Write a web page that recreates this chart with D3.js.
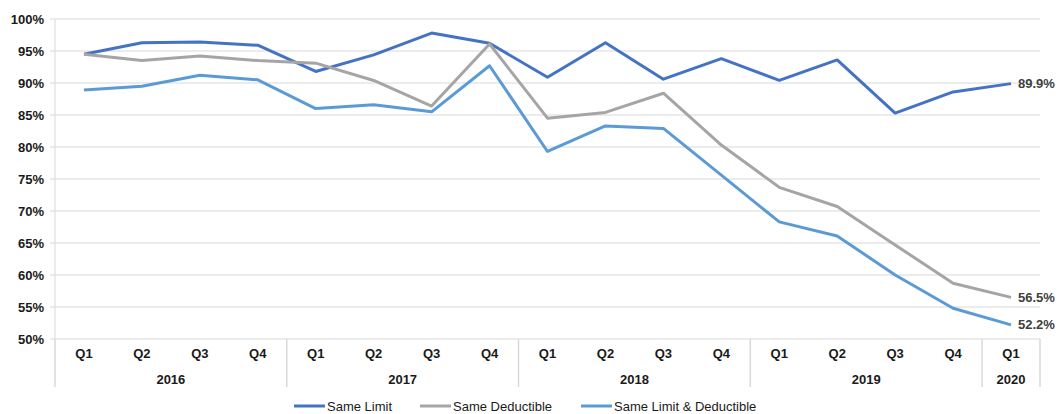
<!DOCTYPE html>
<html>
<head>
<meta charset="utf-8">
<script src="https://cdn.jsdelivr.net/npm/d3@7"></script>
<style>
  body { margin: 0; background: #fff; }
  text { font-family: "Liberation Sans", Arial, sans-serif; }
</style>
</head>
<body>
<svg id="chart" width="1057" height="414"></svg>
<script>
// categories
const quarters = ["Q1","Q2","Q3","Q4","Q1","Q2","Q3","Q4","Q1","Q2","Q3","Q4","Q1","Q2","Q3","Q4","Q1"];
const years = ["2016", "2017", "2018", "2019", "2020"];
const quartersPerYear = [4, 4, 4, 4, 1];
const yTicks = [0.50, 0.55, 0.60, 0.65, 0.70, 0.75, 0.80, 0.85, 0.90, 0.95, 1.00];

// series values
const sameLimit = [0.945, 0.963, 0.964, 0.959, 0.918, 0.944, 0.978, 0.962, 0.909, 0.963, 0.906, 0.938, 0.904, 0.936, 0.853, 0.886, 0.899];
const sameDeductible = [0.945, 0.935, 0.942, 0.935, 0.931, 0.904, 0.864, 0.961, 0.845, 0.854, 0.884, 0.803, 0.737, 0.707, 0.647, 0.587, 0.565];
const sameLimitDeductible = [0.889, 0.895, 0.912, 0.905, 0.860, 0.866, 0.855, 0.927, 0.793, 0.833, 0.829, 0.756, 0.683, 0.661, 0.600, 0.548, 0.522];

const seriesNames = ["Same Limit", "Same Deductible", "Same Limit & Deductible"];
const seriesColors = ["#4472C4", "#A5A5A5", "#5B9BD5"];
const seriesData = [sameLimit, sameDeductible, sameLimitDeductible];

const svg = d3.select("#chart");
const plotLeft = 55, plotRight = 1040, plotTop = 19, plotBottom = 339;
const gridColor = "#d9d9d9";
const textColor = "#1a1a1a";

const x = d3.scaleBand()
    .domain(d3.range(quarters.length))
    .range([plotLeft, plotRight]);

const y = d3.scaleLinear()
    .domain([0.5, 1.0])
    .range([plotBottom, plotTop]);

// gridlines + y labels
svg.append("g")
    .selectAll("line")
    .data(yTicks)
    .enter().append("line")
    .attr("x1", plotLeft - 5)
    .attr("x2", plotRight)
    .attr("y1", d => y(d))
    .attr("y2", d => y(d))
    .style("stroke", gridColor)
    .style("stroke-width", 1);

svg.append("g")
    .selectAll("text")
    .data(yTicks)
    .enter().append("text")
    .attr("x", plotLeft - 11)
    .attr("y", d => y(d))
    .attr("dy", "0.35em")
    .attr("text-anchor", "end")
    .attr("font-size", "13px")
    .attr("font-weight", "bold")
    .attr("fill", textColor)
    .text(d => d3.format(".0%")(d));

// y axis line
svg.append("line")
    .attr("x1", plotLeft).attr("x2", plotLeft)
    .attr("y1", plotTop).attr("y2", plotBottom)
    .style("stroke", gridColor);

// year separators below the axis
let boundaries = [0];
quartersPerYear.forEach(n => boundaries.push(boundaries[boundaries.length - 1] + n));
const bx = d => d < quarters.length ? x(d) : plotRight;

svg.append("g")
    .selectAll("line")
    .data(boundaries)
    .enter().append("line")
    .attr("x1", bx)
    .attr("x2", bx)
    .attr("y1", plotBottom)
    .attr("y2", plotBottom + 48)
    .style("stroke", gridColor)
    .style("stroke-width", 1.5);

// quarter labels
svg.append("g")
    .selectAll("text")
    .data(quarters)
    .enter().append("text")
    .attr("x", (_, i) => x(i) + x.bandwidth() / 2)
    .attr("y", plotBottom + 14)
    .attr("dy", "0.35em")
    .attr("text-anchor", "middle")
    .attr("font-size", "13px")
    .attr("font-weight", "bold")
    .attr("fill", textColor)
    .text(d => d);

// year labels
svg.append("g")
    .selectAll("text")
    .data(years)
    .enter().append("text")
    .attr("x", (_, i) => (bx(boundaries[i]) + bx(boundaries[i + 1])) / 2)
    .attr("y", plotBottom + 40)
    .attr("dy", "0.35em")
    .attr("text-anchor", "middle")
    .attr("font-size", "13px")
    .attr("font-weight", "bold")
    .attr("fill", textColor)
    .text(d => d);

// lines
const line = d3.line()
    .x((_, i) => x(i) + x.bandwidth() / 2)
    .y(d => y(d));

svg.append("g")
    .selectAll("path")
    .data(seriesData)
    .enter().append("path")
    .attr("d", line)
    .attr("fill", "none")
    .attr("stroke", (_, i) => seriesColors[i])
    .attr("stroke-width", 3)
    .attr("stroke-linejoin", "round");

// end labels
const last = quarters.length - 1;
svg.append("g")
    .selectAll("text")
    .data(seriesData)
    .enter().append("text")
    .attr("x", x(last) + x.bandwidth() / 2 + 7)
    .attr("y", d => y(d[last]))
    .attr("dy", "0.35em")
    .attr("font-size", "13px")
    .attr("font-weight", "bold")
    .attr("fill", "#404040")
    .text(d => d3.format(".1%")(d[last]));

// legend
const legendX = [294, 420, 581];
const legend = svg.append("g")
    .selectAll("g")
    .data(seriesNames)
    .enter().append("g")
    .attr("transform", (_, i) => `translate(${legendX[i]}, 406)`);

legend.append("line")
    .attr("x1", 0).attr("x2", 31)
    .attr("y1", 0).attr("y2", 0)
    .attr("stroke", (_, i) => seriesColors[i])
    .attr("stroke-width", 3);

legend.append("text")
    .attr("x", 33)
    .attr("y", 0)
    .attr("dy", "0.35em")
    .attr("font-size", "13px")
    .attr("fill", textColor)
    .text(d => d);
</script>
</body>
</html>
